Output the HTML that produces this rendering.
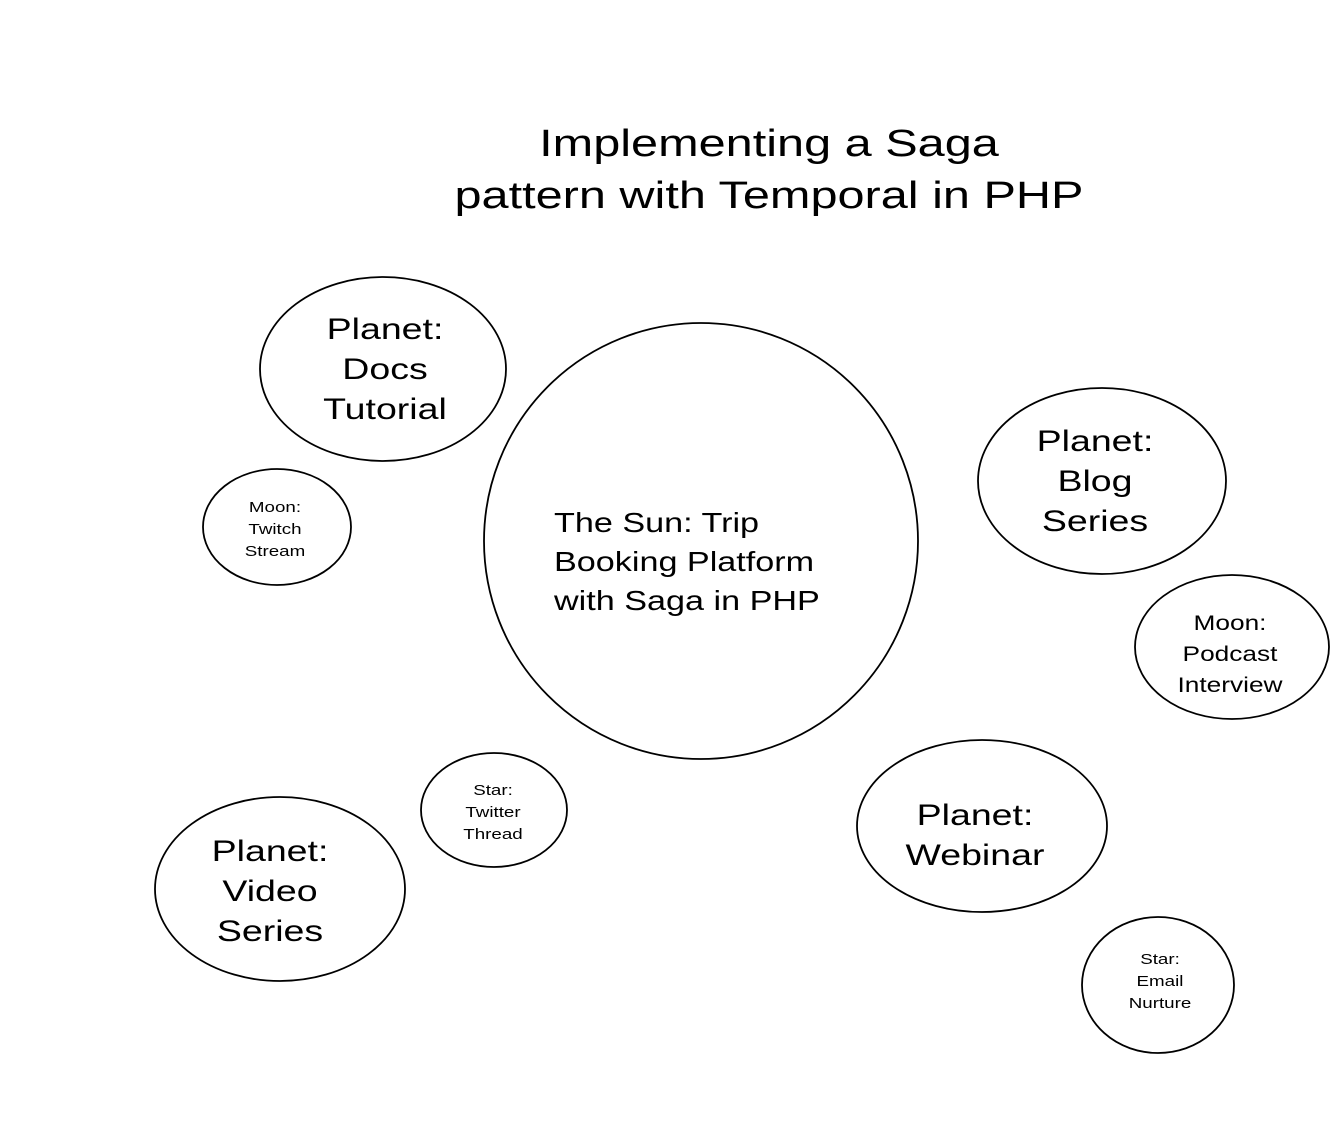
<!DOCTYPE html>
<html><head><meta charset="utf-8"><style>
html,body{margin:0;padding:0;background:#fff;}
body{width:1332px;height:1122px;position:relative;overflow:hidden;font-family:"Liberation Sans",sans-serif;color:#000;}
.t{position:absolute;white-space:pre;line-height:1;transform:scaleX(1.25);transform-origin:center top;}
</style></head><body>
<svg width="1332" height="1122" style="position:absolute;left:0;top:0" fill="none" stroke="#000" stroke-width="1.8">
<ellipse cx="701" cy="541" rx="217" ry="218"/>
<ellipse cx="383" cy="369" rx="123" ry="92"/>
<ellipse cx="277" cy="527" rx="74" ry="58"/>
<ellipse cx="1102" cy="481" rx="124" ry="93"/>
<ellipse cx="1232" cy="647" rx="97" ry="72"/>
<ellipse cx="982" cy="826" rx="125" ry="86"/>
<ellipse cx="1158" cy="985" rx="76" ry="68"/>
<ellipse cx="494" cy="810" rx="73" ry="57"/>
<ellipse cx="280" cy="889" rx="125" ry="92"/>
</svg>
<div class="t" style="left:439px;top:118px;width:660px;text-align:center;font-size:38px;line-height:52px;transform:scaleX(1.28);">Implementing a Saga
pattern with Temporal in PHP</div>
<div class="t" style="left:554px;top:503px;font-size:28px;line-height:39px;transform:scaleX(1.22);transform-origin:left top;">The Sun: Trip
Booking Platform
with Saga in PHP</div>
<div class="t" style="left:310px;top:310px;width:150px;text-align:center;font-size:30px;line-height:40px;">Planet:
Docs
Tutorial</div>
<div class="t" style="left:230px;top:497px;width:90px;text-align:center;font-size:15px;line-height:22px;">Moon:
Twitch
Stream</div>
<div class="t" style="left:1030px;top:422px;width:130px;text-align:center;font-size:30px;line-height:40px;">Planet:
Blog
Series</div>
<div class="t" style="left:1170px;top:608px;width:120px;text-align:center;font-size:21px;line-height:31px;">Moon:
Podcast
Interview</div>
<div class="t" style="left:910px;top:796px;width:130px;text-align:center;font-size:30px;line-height:40px;">Planet:
Webinar</div>
<div class="t" style="left:1115px;top:949px;width:90px;text-align:center;font-size:15px;line-height:22px;">Star:
Email
Nurture</div>
<div class="t" style="left:448px;top:780px;width:90px;text-align:center;font-size:15px;line-height:22px;">Star:
Twitter
Thread</div>
<div class="t" style="left:205px;top:832px;width:130px;text-align:center;font-size:30px;line-height:40px;">Planet:
Video
Series</div>
</body></html>
